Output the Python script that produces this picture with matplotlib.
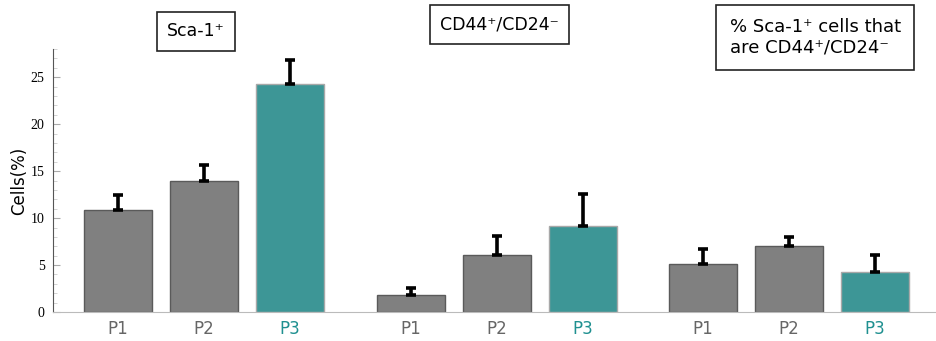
import numpy as np
import matplotlib
matplotlib.use("Agg")
import matplotlib.pyplot as plt
from matplotlib.ticker import MultipleLocator

# data
groups = ["Sca-1\u207a", "CD44\u207a/CD24\u207b", "% Sca-1\u207a cells that\nare CD44\u207a/CD24\u207b"]
passages = ["P1", "P2", "P3"]
means = [
    [10.9, 13.9, 24.25],
    [1.8, 6.1, 9.2],
    [5.1, 7.05, 4.3],
]
errors = [
    [1.6, 1.8, 2.55],
    [0.8, 2.0, 3.4],
    [1.6, 0.95, 1.8],
]

gray = "#808080"
teal = "#3d9696"
teal_text = "#1f9090"
group_gap = 3.4

fig = plt.figure(figsize=(9.37, 3.41), dpi=100)
ax = fig.add_axes([0.0566, 0.085, 0.9434, 0.771])

xticks = []
xlabels = []
for g in range(len(groups)):
    for i, p in enumerate(passages):
        x = g * group_gap + i
        color = teal if p == "P3" else gray
        edge = "#a8a8a8" if p == "P3" else "#5a5a5a"
        ax.bar(x, means[g][i], width=0.79, color=color, edgecolor=edge, linewidth=1)
        ax.errorbar(x, means[g][i], yerr=[[0], [errors[g][i]]], fmt="none",
                    ecolor="black", elinewidth=2.6, capsize=3.5, capthick=2.6)
        xticks.append(x)
        xlabels.append(p)

ax.set_xlim(-0.756, 2 * group_gap + 2 + 0.72)
ax.set_ylim(0, 28)
ax.set_xticks(xticks)
ax.set_xticklabels(xlabels, fontsize=12, color="#666666")
for lab in ax.get_xticklabels():
    if lab.get_text() == "P3":
        lab.set_color(teal_text)
ax.tick_params(axis="x", length=0, pad=6)

ax.yaxis.set_major_locator(MultipleLocator(5))
ax.yaxis.set_minor_locator(MultipleLocator(1))
ax.tick_params(axis="y", which="major", direction="in", length=5, color="#aaaaaa",
               labelsize=10, pad=6)
ax.tick_params(axis="y", which="minor", direction="in", length=3, color="#cccccc")
for lab in ax.get_yticklabels():
    lab.set_fontfamily("Liberation Serif")
ax.set_ylabel("Cells(%)", fontsize=12, labelpad=2)

for side in ["top", "right"]:
    ax.spines[side].set_visible(False)
ax.spines["left"].set_color("#555555")
ax.spines["bottom"].set_color("#bbbbbb")

box = dict(boxstyle="square,pad=0.6", facecolor="white", edgecolor="#222222", linewidth=1.2)
box3 = dict(boxstyle="square,pad=0.75", facecolor="white", edgecolor="#222222", linewidth=1.2)
fig.text(0.209, 0.908, groups[0], fontsize=12.5, ha="center", va="center", bbox=box)
fig.text(0.533, 0.928, groups[1], fontsize=12.5, ha="center", va="center", bbox=box)
fig.text(0.870, 0.891, groups[2], fontsize=13, ha="center", va="center",
         multialignment="left", linespacing=1.15, bbox=box3)

fig.savefig("out.png", dpi=100)
